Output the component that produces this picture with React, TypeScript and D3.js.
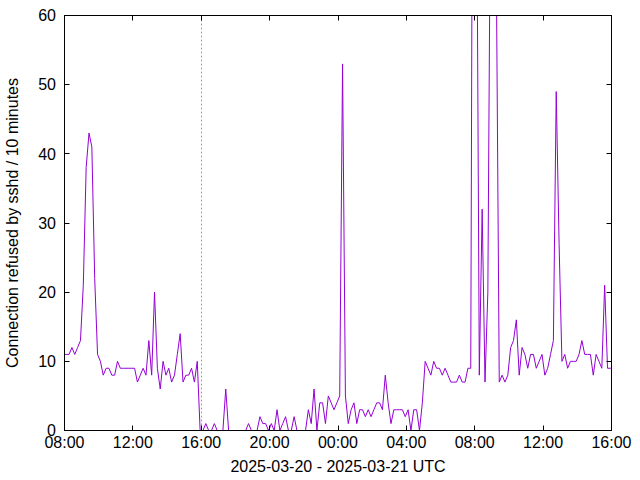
import React from "react";
import * as d3 from "d3";

// ---- data ----
const START = "2025-03-20T08:00:00Z";
const END = "2025-03-21T16:00:00Z";
const DATA_START = "2025-03-20T07:56:00Z";
const STEP_MINUTES = 10;
const MARKER_TIME = "2025-03-20T16:00:00Z";

const counts: number[] = [
  11,
  11, 11, 12, 11, 12, 13, 21, 38, 43, 41,
  22, 11, 10, 8, 9, 9, 8, 8, 10, 9,
  9, 9, 9, 9, 9, 7, 8, 9, 8, 13,
  8, 20, 9, 6, 10, 8, 9, 7, 8, 11,
  14, 7, 8, 8, 9, 7, 10, 0, 0, 1,
  0, 0, 1, 0, 0, 0, 6, 0, 0, 0,
  0, 0, 0, 0, 1, 0, 0, 0, 2, 1,
  1, 0, 1, 0, 3, 0, 1, 2, 0, 0,
  2, 0, 0, 0, 0, 3, 1, 6, 0, 4,
  4, 1, 5, 4, 3, 4, 5, 53, 5, 1,
  3, 4, 1, 3, 3, 2, 3, 2, 3, 4,
  4, 3, 8, 4, 1, 3, 3, 3, 3, 2,
  3, 0, 3, 3, 0, 4, 10, 9, 8, 10,
  9, 9, 8, 9, 8, 7, 7, 7, 8, 7,
  7, 9, 9, 140, 88, 8, 32, 7, 20, 85,
  80, 65, 7, 8, 7, 8, 12, 13, 16, 8,
  12, 11, 9, 11, 11, 9, 10, 11, 8, 9,
  11, 13, 49, 27, 10, 11, 9, 10, 10, 10,
  11, 13, 11, 11, 11, 8, 11, 10, 9, 21,
  9, 9, 9,
];

const yTicks = [0, 10, 20, 30, 40, 50, 60];
const xTickHours = 4;
const xTitle = "2025-03-20 - 2025-03-21 UTC";
const yTitle = "Connection refused by sshd / 10 minutes";

const LINE_COLOR = "#9400d3";
const FONT = "'Liberation Sans', Arial, sans-serif";

export default function App() {
  const W = 640;
  const H = 480;
  const left = 64.5;
  const right = 611.5;
  const top = 15.5;
  const bottom = 430.5;
  const tickLen = 5;

  const x = d3
    .scaleUtc()
    .domain([new Date(START), new Date(END)])
    .range([left, right]);
  const y = d3.scaleLinear().domain([0, 60]).range([bottom, top]);

  const t0 = new Date(DATA_START).getTime();
  const data = counts.map((v, i) => ({
    t: new Date(t0 + i * STEP_MINUTES * 60000),
    v,
  }));

  const line = d3
    .line<{ t: Date; v: number }>()
    .x((d) => x(d.t))
    .y((d) => y(d.v));

  const xTicks = x.ticks(d3.utcHour.every(xTickHours)!);
  const fmt = d3.utcFormat("%H:%M");
  const mx = Math.round(x(new Date(MARKER_TIME))) + 0.5;

  return (
    <svg
      width={W}
      height={H}
      viewBox={`0 0 ${W} ${H}`}
      style={{ position: "absolute", left: 0, top: 0, background: "#fff" }}
    >
      <rect x={0} y={0} width={W} height={H} fill="#fff" />
      <defs>
        <clipPath id="plotClip">
          <rect x={left} y={top} width={right - left} height={bottom - top} />
        </clipPath>
      </defs>

      {/* marker line */}
      <line
        x1={mx}
        x2={mx}
        y1={top}
        y2={bottom}
        stroke="#a0a0a0"
        strokeWidth={1}
        strokeDasharray="2,2"
      />

      {/* data line */}
      <path
        d={line(data) ?? ""}
        fill="none"
        stroke={LINE_COLOR}
        strokeWidth={1}
        clipPath="url(#plotClip)"
        strokeLinejoin="miter"
      />

      {/* ticks */}
      {yTicks.map((t) => {
        const yy = Math.round(y(t) - 0.5) + 0.5;
        return (
          <g key={"y" + t}>
            <line x1={left} x2={left + tickLen} y1={yy} y2={yy} stroke="#000" />
            <line x1={right} x2={right - tickLen} y1={yy} y2={yy} stroke="#000" />
            <text
              x={56}
              y={y(t) + 5.7}
              textAnchor="end"
              fontFamily={FONT}
              fontSize={16}
              fill="#000"
            >
              {t}
            </text>
          </g>
        );
      })}
      {xTicks.map((t, i) => {
        const xx = Math.round(x(t) - 0.5) + 0.5;
        return (
          <g key={"x" + i}>
            <line x1={xx} x2={xx} y1={bottom} y2={bottom - tickLen} stroke="#000" />
            <line x1={xx} x2={xx} y1={top} y2={top + tickLen} stroke="#000" />
            <text
              x={x(t)}
              y={447.5}
              textAnchor="middle"
              fontFamily={FONT}
              fontSize={16}
              fill="#000"
            >
              {fmt(t)}
            </text>
          </g>
        );
      })}

      {/* border */}
      <rect
        x={left}
        y={top}
        width={right - left}
        height={bottom - top}
        fill="none"
        stroke="#000"
        strokeWidth={1}
      />

      {/* titles */}
      <text
        x={(left + right) / 2}
        y={472}
        textAnchor="middle"
        fontFamily={FONT}
        fontSize={16}
        fill="#000"
      >
        {xTitle}
      </text>
      <text
        transform={`translate(18, ${(top + bottom) / 2}) rotate(-90)`}
        textAnchor="middle"
        fontFamily={FONT}
        fontSize={16}
        fill="#000"
      >
        {yTitle}
      </text>
    </svg>
  );
}
